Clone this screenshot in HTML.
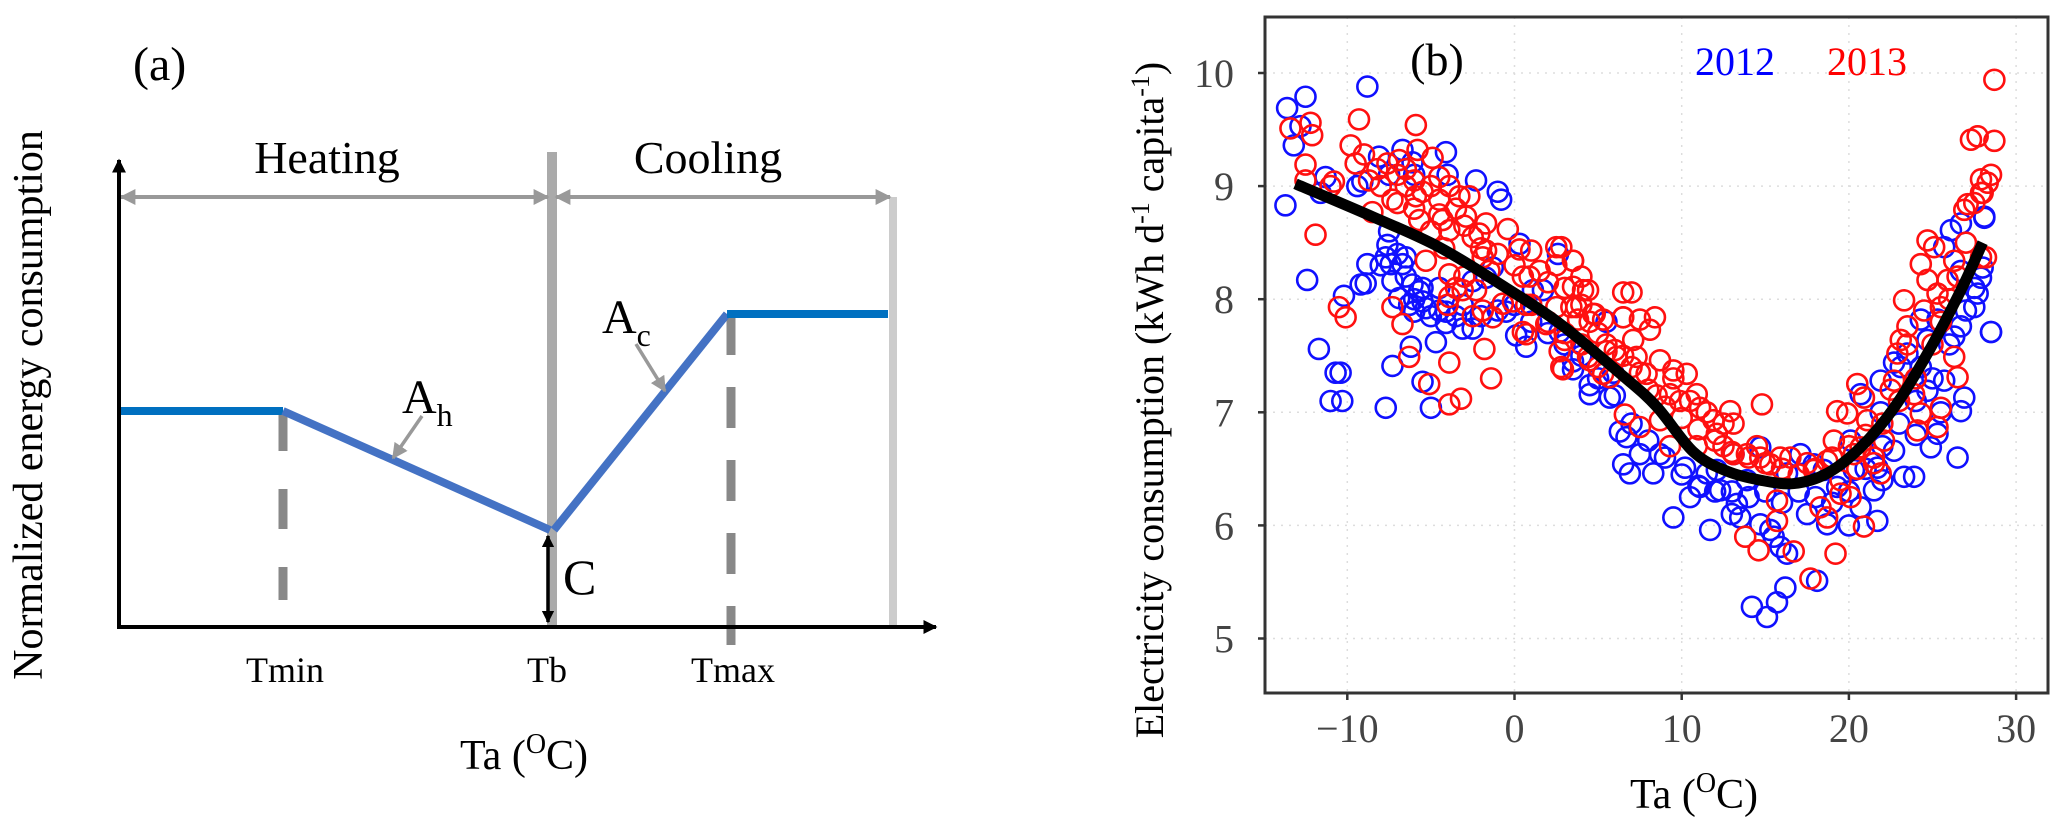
<!DOCTYPE html>
<html><head><meta charset="utf-8">
<style>
html,body{margin:0;padding:0;background:#fff;}
svg{display:block;}
text{font-family:"Liberation Serif","DejaVu Serif",serif;}
</style></head>
<body>
<svg id="fig" width="2067" height="835" viewBox="0 0 2067 835" xmlns="http://www.w3.org/2000/svg">
<defs>
<marker id="ahG" viewBox="0 0 10 10" refX="9" refY="5" markerWidth="4" markerHeight="4" orient="auto-start-reverse"><path d="M0,0 L10,5 L0,10 z" fill="#999"/></marker>
<marker id="ahK" viewBox="0 0 10 10" refX="9" refY="5" markerWidth="3.5" markerHeight="3.5" orient="auto-start-reverse"><path d="M0,0 L10,5 L0,10 z" fill="#000"/></marker>
<marker id="ahS" viewBox="0 0 10 10" refX="9" refY="5" markerWidth="4.5" markerHeight="4.5" orient="auto"><path d="M0,0 L10,5 L0,10 z" fill="#999"/></marker>
</defs>

<g>
  <text x="133" y="80" font-size="48">(a)</text>
  <text x="327" y="173" font-size="46" text-anchor="middle">Heating</text>
  <text x="708" y="173" font-size="46" text-anchor="middle">Cooling</text>
  <line x1="552" y1="152" x2="552" y2="627" stroke="#aaa" stroke-width="10"/>
  <line x1="893" y1="197" x2="893" y2="627" stroke="#ccc" stroke-width="8"/>
  <line x1="121" y1="197" x2="548" y2="197" stroke="#999" stroke-width="4" marker-start="url(#ahG)" marker-end="url(#ahG)"/>
  <line x1="556" y1="197" x2="890" y2="197" stroke="#999" stroke-width="4" marker-start="url(#ahG)" marker-end="url(#ahG)"/>
  <line x1="283" y1="411" x2="283" y2="600" stroke="#888" stroke-width="9" stroke-dasharray="40,38"/>
  <line x1="731" y1="314" x2="731" y2="645" stroke="#888" stroke-width="9" stroke-dasharray="41,32"/>
  <line x1="119" y1="411" x2="283" y2="411" stroke="#0070c0" stroke-width="8"/>
  <line x1="283" y1="411" x2="550" y2="530" stroke="#4472c4" stroke-width="8"/>
  <line x1="554" y1="530" x2="727" y2="314" stroke="#4472c4" stroke-width="8"/>
  <line x1="727" y1="314" x2="888" y2="314" stroke="#0070c0" stroke-width="8"/>
  <line x1="119" y1="629" x2="119" y2="160" stroke="#000" stroke-width="4" marker-end="url(#ahK)"/>
  <line x1="117" y1="627" x2="936" y2="627" stroke="#000" stroke-width="4" marker-end="url(#ahK)"/>
  <line x1="548" y1="536" x2="548" y2="622" stroke="#000" stroke-width="3.5" marker-start="url(#ahK)" marker-end="url(#ahK)"/>
  <text x="563" y="594" font-size="50">C</text>
  <line x1="422" y1="416" x2="393" y2="458" stroke="#999" stroke-width="3.5" marker-end="url(#ahS)"/>
  <text x="402" y="413" font-size="48">A<tspan font-size="32" dy="13">h</tspan></text>
  <line x1="636" y1="344" x2="665" y2="391" stroke="#999" stroke-width="3.5" marker-end="url(#ahS)"/>
  <text x="602" y="333" font-size="48">A<tspan font-size="32" dy="13">c</tspan></text>
  <text x="285" y="682" font-size="36" text-anchor="middle">Tmin</text>
  <text x="547" y="682" font-size="36" text-anchor="middle">Tb</text>
  <text x="733" y="682" font-size="36" text-anchor="middle">Tmax</text>
  <text x="524" y="769" font-size="42" text-anchor="middle">Ta (<tspan font-size="28" dy="-16">O</tspan><tspan dy="16">C)</tspan></text>
  <text transform="translate(42,405) rotate(-90)" font-size="42" text-anchor="middle">Normalized energy consumption</text>
</g>

<g id="panelB">
  <g id="gridB"></g>
  <g id="blueB"></g>
  <g id="redB"></g>
  <path id="fitB" fill="none" stroke="#000" stroke-width="11" stroke-linecap="butt"/>
  <rect x="1265" y="17" width="783" height="676" fill="none" stroke="#333" stroke-width="3"/>
  <g id="ticksB"></g>
  <text x="1437" y="75" font-size="46" text-anchor="middle">(b)</text>
  <text x="1695" y="75" font-size="40" fill="#0000ff">2012</text>
  <text x="1827" y="75" font-size="40" fill="#ff0000">2013</text>
  <text x="1694" y="808" font-size="42" text-anchor="middle">Ta (<tspan font-size="28" dy="-16">O</tspan><tspan dy="16">C)</tspan></text>
  <text transform="translate(1163,400) rotate(-90)" font-size="40" text-anchor="middle">Electricity consumption (kWh d<tspan font-size="26" dy="-14">-1</tspan><tspan dy="14"> capita</tspan><tspan font-size="26" dy="-14">-1</tspan><tspan dy="14">)</tspan></text>
</g>
</svg>
<script>
const xTicks = [-10, 0, 10, 20, 30];
const yTicks = [5, 6, 7, 8, 9, 10];
const xTickLabels = ["\u221210", "0", "10", "20", "30"];
const yTickLabels = ["5", "6", "7", "8", "9", "10"];
const t2012 = [-13.6,-12.5,-12.8,-13.2,-13.7,-8.8,-11.3,-11.6,-9.4,-9.1,-12.4,-10.2,-11.7,-10.7,-10.4,-11.0,-10.3,-8.8,-8.9,-9.2,-7.7,-7.3,-6.2,-5.5,-5.0,-8.1,-6.7,-6.1,-4.1,-2.3,-1.0,-7.5,-7.6,-7.7,-7.4,-6.7,-6.5,-7.3,-6.1,-5.7,-5.5,-5.3,-6.0,-6.9,-6.3,-4.5,-4.1,-4.1,-3.1,-2.5,-4.7,-3.1,-2.5,-1.7,-1.3,-0.5,0.1,0.7,0.3,1.1,1.7,2.6,2.7,3.5,4.5,5.5,5.9,6.3,6.5,-0.8,
4.5,3.5,5.7,6.7,7.5,6.9,8.3,8.7,9.5,10.2,10.5,11.1,11.7,12.3,12.1,13.3,13.5,14.2,15.1,15.7,16.2,18.1,14.7,15.3,15.9,15.5,16.3,14.7,17.1,17.5,18.7,19.3,20.7,21.7,21.5,20.3,20.1,21.9,22.7,23.3,23.9,24.9,25.3,26.5,26.7,26.9,24.7,25.7,24.3,23.1,24.7,26.3,26.7,28.5,27.5,27.7,28.0,27.9,26.7,25.7,28.1,26.7,26.1,25.3,24.3,23.5,22.7,21.9,20.7,13.1,11.5,13.9,16.3,17.9,18.5,21.7,28.1,28.5,
-7,-6.5,-6,-5.5,-5,-4.5,-3.5,-2,-1,0,1,2,3,4,5,6,7,8,9,10,11,12,13,14,15,16,17,18,19,20,21,22,23,24,25,26,27,27.5,25.5,24,22,20,13,-7.5,-4,-6,-8];
const v2012 = [9.69,9.79,9.53,9.36,8.83,9.88,9.08,8.94,9.0,9.04,8.17,8.03,7.56,7.35,7.35,7.1,7.1,8.31,8.14,8.13,7.04,7.41,7.58,7.27,7.04,9.26,9.32,9.21,9.3,9.05,8.95,8.6,8.48,8.37,8.31,8.31,8.37,8.16,8.13,8.07,7.98,7.92,7.89,8.01,7.95,8.1,7.89,7.79,7.74,7.74,7.62,7.95,8.16,8.19,8.28,7.89,7.68,7.58,8.49,8.08,8.08,8.4,7.71,7.45,7.24,7.8,7.35,6.83,6.54,8.88,
7.16,7.38,7.13,6.78,6.63,6.46,6.46,6.63,6.07,6.51,6.25,6.34,5.96,6.31,6.49,6.19,6.07,5.28,5.19,5.32,5.45,5.51,6.01,5.96,5.81,5.9,5.75,6.69,6.63,6.1,6.01,6.34,6.16,6.04,6.31,6.49,6.75,7.28,6.66,6.43,6.43,6.69,6.81,6.6,7.01,7.13,7.19,7.28,7.4,7.4,7.64,7.67,7.76,7.71,7.93,8.05,8.28,8.19,8.25,8.46,8.73,8.67,8.61,7.82,7.82,7.52,7.44,7.0,7.16,6.63,6.46,6.4,6.46,6.54,6.49,6.51,8.72,7.71,
8.4,8.2,8.0,8.1,7.85,7.9,7.85,7.85,7.9,7.95,7.8,7.7,7.6,7.5,7.3,7.15,6.9,6.75,6.6,6.45,6.35,6.3,6.3,6.25,6.3,6.2,6.3,6.25,6.2,6.3,6.5,6.7,6.9,7.1,7.3,7.6,7.9,8.1,7.0,6.8,6.4,6.0,6.1,9.1,9.1,9.1,8.3];
const t2013 = [-13.4,-12.2,-12.1,-12.5,-12.5,-11.9,-10.8,-9.3,-9.8,-9.0,-10.5,-10.1,-8.5,-8.7,-7.6,-6.9,-5.9,-5.8,-4.9,-7.3,-6.5,-5.9,-5.7,-4.5,-4.5,-3.9,-3.3,-4.3,-3.9,-2.7,-2.9,-1.7,-2.1,-0.4,-1.7,-1.9,-5.3,-3.9,-3.5,-3.9,-3.1,-2.3,-1.9,-1.3,-0.7,-0.1,0.7,0.7,0.9,0.3,1.0,2.5,3.5,3.5,4.1,2.5,3.7,4.7,1.9,2.7,2.9,4.5,5.5,5.7,6.5,6.5,-7.3,-6.7,-6.3,-5.1,-3.9,-3.9,-3.2,-1.8,-1.4,0.5,
2.8,3.5,4.0,4.4,3.4,3.8,4.8,5.3,3.0,4.4,2.8,5.3,6.1,6.5,7.0,7.5,8.4,8.1,7.1,7.3,7.9,8.7,9.5,10.3,9.3,9.9,10.9,11.1,6.6,7.5,8.7,9.3,10.9,11.9,12.1,12.9,13.1,12.5,13.1,14.8,13.9,14.7,15.3,15.9,15.7,15.7,13.8,14.6,16.7,17.7,19.2,18.7,18.3,19.5,20.1,20.9,17.9,18.7,19.1,19.3,19.9,20.5,20.9,21.1,20.7,21.5,21.9,20.3,22.1,22.7,22.9,23.1,23.5,24.1,24.3,23.9,25.5,25.3,23.3,24.3,24.7,25.1,24.7,25.3,25.9,25.5,26.3,26.3,26.5,27.9,26.9,27.5,27.9,28.3,28.7,27.3,27.7,28.7,27.9,28.5,28.0,27.1,28.2,
-7,-6.5,-6,-5.5,-5,-4.5,-3.5,-3,-2.5,-6,-7,-8,-5,-2,-1,-1.5,0,0.5,1.5,2,2.5,3,4,4.5,5,5.5,6,6.5,7,7.5,8,8.5,9,10,11,12,13,14,15,16,17,18,19,20,21,22,23,24,25,25.5,26,26.5,27,24.5,23.5,22.5,21.5,20.5,19.5,17.5,16.5,14.5,12.5,11.5,10.5,9.5,-3,-4,-2.5,1,2,3,4,5,-9.5,-11,-8.2,-4.2];
const v2013 = [9.51,9.56,9.45,9.19,9.05,8.57,9.04,9.59,9.36,9.28,7.93,7.84,8.77,9.05,9.2,9.23,9.54,9.32,9.25,8.88,9.0,8.91,8.7,9.08,8.88,9.0,8.91,8.7,8.61,8.91,8.73,8.67,8.58,8.62,8.43,8.37,8.34,8.22,8.1,8.02,8.08,8.08,7.9,7.84,7.96,7.98,7.95,7.69,8.2,8.44,8.43,8.46,8.34,8.11,8.08,7.93,7.93,7.87,7.78,7.54,7.38,7.46,7.54,7.31,7.84,8.06,7.93,7.78,7.49,7.25,7.44,7.07,7.12,7.56,7.3,7.71,
8.46,8.34,8.2,8.08,7.93,7.82,7.87,7.82,7.64,7.49,7.4,7.34,7.49,7.84,8.06,7.82,7.84,7.73,7.64,7.49,7.34,7.46,7.37,7.34,7.16,7.1,7.16,7.04,6.98,6.87,6.93,6.7,6.7,6.93,6.81,7.01,6.9,6.7,6.63,7.07,6.63,6.6,6.54,6.6,6.22,6.04,5.9,5.78,5.77,5.53,5.75,6.07,6.16,6.28,6.25,5.99,6.49,6.57,6.75,7.01,6.99,7.25,7.13,6.93,6.69,6.55,6.46,6.63,6.75,7.28,7.52,7.64,7.76,6.84,6.99,7.16,7.04,6.87,7.99,8.31,8.52,8.46,8.17,8.05,8.17,7.93,8.34,7.49,7.31,8.37,8.79,8.85,8.94,9.03,9.94,9.41,9.44,9.4,9.06,9.1,8.94,8.84,8.37,
9.1,9.15,9.05,8.95,9.0,8.75,8.8,8.65,8.55,8.8,8.85,9.0,8.6,8.45,8.4,8.25,8.3,8.2,8.25,8.15,8.3,8.1,7.95,7.8,7.7,7.6,7.55,7.5,7.4,7.35,7.2,7.15,7.05,6.95,6.85,6.75,6.65,6.6,6.55,6.5,6.45,6.5,6.6,6.7,6.8,6.9,7.1,7.3,7.6,7.8,8.0,8.2,8.5,7.9,7.6,7.2,6.6,6.5,6.4,6.55,6.6,6.7,6.9,7.0,7.1,7.3,8.2,7.95,7.85,7.95,7.8,7.7,7.6,7.4,9.2,9.0,9.15,8.45];
const fitT = [-13.1,-8.5,-4.5,-0.5,2.75,6.5,8.5,10.7,12.7,14.7,16.7,18.7,20.7,22.7,24.7,26.7,28];
const fitV = [9.02,8.73,8.46,8.1,7.78,7.32,7.05,6.65,6.48,6.4,6.37,6.46,6.69,7.04,7.52,8.08,8.5];

const NS = "http://www.w3.org/2000/svg";
const X0 = 1265, X1 = 2048, Y0 = 17, Y1 = 693;
function sx(t){ return 1514.5 + t * 16.72; }
function sy(v){ return 73 + (10 - v) * 113.1; }

const grid = document.getElementById("gridB");
const ticks = document.getElementById("ticksB");
xTicks.forEach((t, i) => {
  const g = document.createElementNS(NS, "line");
  g.setAttribute("x1", sx(t)); g.setAttribute("x2", sx(t));
  g.setAttribute("y1", Y0); g.setAttribute("y2", Y1);
  g.setAttribute("stroke", "#ddd"); g.setAttribute("stroke-width", "1.5"); g.setAttribute("stroke-dasharray", "2,6");
  
  
  grid.appendChild(g);
  const tk = document.createElementNS(NS, "line");
  tk.setAttribute("x1", sx(t)); tk.setAttribute("x2", sx(t));
  tk.setAttribute("y1", Y1); tk.setAttribute("y2", Y1 + 7);
  tk.setAttribute("stroke", "#333"); tk.setAttribute("stroke-width", "2.5");
  
  
  ticks.appendChild(tk);
  const lb = document.createElementNS(NS, "text");
  lb.setAttribute("x", sx(t)); lb.setAttribute("y", 742);
  lb.setAttribute("font-size", "40"); lb.setAttribute("fill", "#444"); lb.setAttribute("text-anchor", "middle");
  lb.textContent = xTickLabels[i];
  
  
  ticks.appendChild(lb);
});
yTicks.forEach((v, i) => {
  const g = document.createElementNS(NS, "line");
  g.setAttribute("x1", X0); g.setAttribute("x2", X1);
  g.setAttribute("y1", sy(v)); g.setAttribute("y2", sy(v));
  g.setAttribute("stroke", "#ddd"); g.setAttribute("stroke-width", "1.5"); g.setAttribute("stroke-dasharray", "2,6");
  
  
  grid.appendChild(g);
  const tk = document.createElementNS(NS, "line");
  tk.setAttribute("x1", X0 - 7); tk.setAttribute("x2", X0);
  tk.setAttribute("y1", sy(v)); tk.setAttribute("y2", sy(v));
  tk.setAttribute("stroke", "#333"); tk.setAttribute("stroke-width", "2.5");
  
  
  ticks.appendChild(tk);
  const lb = document.createElementNS(NS, "text");
  lb.setAttribute("x", 1234); lb.setAttribute("y", sy(v) + 14);
  lb.setAttribute("font-size", "40"); lb.setAttribute("fill", "#444"); lb.setAttribute("text-anchor", "end");
  lb.textContent = yTickLabels[i];
  
  
  ticks.appendChild(lb);
});

function drawPoints(groupId, ts, vs, color, name) {
  const grp = document.getElementById(groupId);
  const n = Math.min(ts.length, vs.length);
  for (let i = 0; i < n; i++) {
    const c = document.createElementNS(NS, "circle");
    c.setAttribute("cx", sx(ts[i])); c.setAttribute("cy", sy(vs[i]));
    c.setAttribute("r", "10"); c.setAttribute("fill", "none");
    c.setAttribute("stroke", color); c.setAttribute("stroke-width", "2.6");
    
    
    grp.appendChild(c);
  }
}
drawPoints("blueB", t2012, v2012, "#1010ff", "point-2012");
drawPoints("redB", t2013, v2013, "#ff1010", "point-2013");

const pts = fitT.map((t, i) => [sx(t), sy(fitV[i])]);
let d = "M" + pts[0][0] + "," + pts[0][1];
for (let i = 0; i < pts.length - 1; i++) {
  const p0 = pts[Math.max(0, i - 1)], p1 = pts[i], p2 = pts[i + 1], p3 = pts[Math.min(pts.length - 1, i + 2)];
  const c1x = p1[0] + (p2[0] - p0[0]) / 6, c1y = p1[1] + (p2[1] - p0[1]) / 6;
  const c2x = p2[0] - (p3[0] - p1[0]) / 6, c2y = p2[1] - (p3[1] - p1[1]) / 6;
  d += " C" + c1x + "," + c1y + " " + c2x + "," + c2y + " " + p2[0] + "," + p2[1];
}
document.getElementById("fitB").setAttribute("d", d);
</script>
</body></html>
